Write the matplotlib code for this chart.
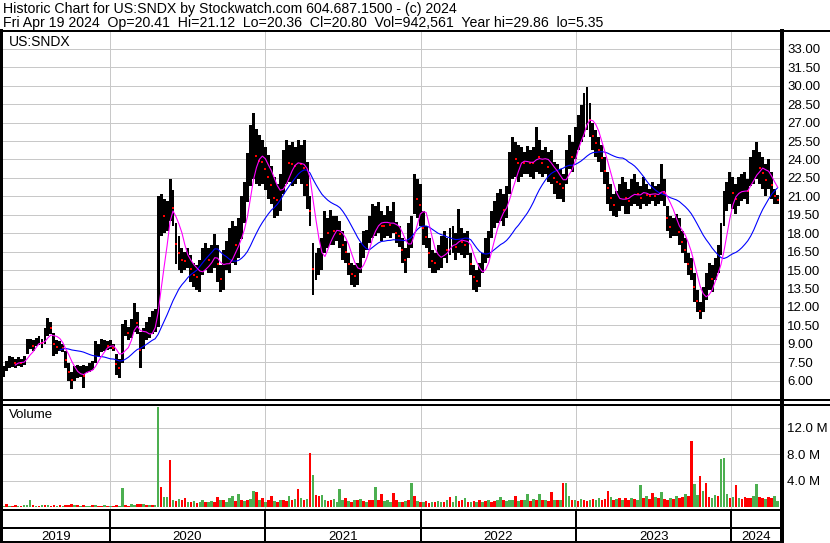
import numpy as np
import pandas as pd
import matplotlib
matplotlib.use('Agg')
import matplotlib.pyplot as plt
import matplotlib.dates as mdates
from matplotlib.lines import Line2D
from matplotlib.transforms import blended_transform_factory

plt.rcParams['font.family'] = ['Liberation Sans', 'DejaVu Sans']

W, H = 830, 543

# weekly bars (week ending friday)
weeks = pd.date_range('2019-04-26', periods=261, freq='W-FRI')

high = [7.2, 7.6, 8.0, 7.9, 7.8, 7.9, 7.8, 8.0, 9.4, 9.4,
        9.3, 9.5, 9.6, 9.4, 10.3, 11.1, 10.8, 9.9, 9.3, 9.2,
        9.0, 8.4, 7.4, 6.7, 7.2, 7.3, 7.2, 7.3, 7.2, 7.4,
        7.6, 9.2, 9.0, 9.4, 9.3, 9.2, 9.3, 9.0, 8.2, 7.8,
        10.6, 10.9, 10.4, 11.0, 12.3, 11.6, 10.0, 10.3, 10.8, 11.2,
        11.7, 11.8, 21.0, 21.2, 20.8, 20.6, 22.4, 21.5, 18.8, 17.8,
        16.8, 16.5, 16.8, 16.2, 15.6, 15.4, 15.8, 16.8, 17.2, 16.8,
        17.0, 17.9, 17.0, 15.4, 16.6, 17.4, 18.4, 19.0, 18.6, 19.2,
        21.0, 22.2, 24.5, 26.8, 27.8, 26.5, 26.0, 25.6, 25.0, 24.4,
        23.5, 22.6, 22.0, 22.8, 24.8, 25.6, 25.2, 25.4, 25.0, 25.6,
        25.2, 25.6, 23.8, 21.0, 17.2, 16.4, 16.8, 17.6, 19.8, 19.2,
        19.9, 19.4, 19.4, 19.0, 18.2, 17.4, 16.4, 15.6, 15.4, 15.6,
        17.2, 18.2, 18.3, 19.4, 20.4, 20.2, 20.5, 19.8, 19.5, 20.2,
        19.8, 20.5, 18.9, 18.6, 17.6, 16.8, 18.8, 19.4, 22.8, 22.4,
        22.0, 19.8, 18.6, 17.6, 16.6, 16.4, 17.0, 17.8, 18.2, 17.6,
        18.4, 18.6, 18.0, 20.0, 18.4, 18.0, 18.2, 16.4, 15.4, 15.0,
        15.6, 16.4, 17.6, 18.2, 19.8, 20.6, 21.3, 21.6, 21.2, 21.8,
        24.6, 25.8, 25.4, 25.2, 25.0, 24.6, 25.1, 24.8, 25.0, 26.6,
        25.6, 24.8, 25.0, 24.6, 24.8, 23.8, 23.6, 23.2, 22.8, 24.8,
        26.0, 25.4, 26.6, 27.6, 28.4, 29.4, 29.86, 28.6, 27.0, 26.4,
        25.8, 25.2, 24.2, 23.0, 22.0, 21.2, 21.4, 22.0, 22.6, 22.2,
        21.6, 22.4, 22.8, 22.2, 21.8, 22.6, 22.0, 21.6, 22.2, 21.8,
        22.0, 23.6, 22.4, 20.2, 19.4, 19.2, 19.6, 19.2, 18.2, 17.6,
        16.4, 16.0, 14.8, 13.4, 12.4, 13.6, 14.8, 15.6, 15.4, 16.0,
        17.0, 18.8, 21.4, 22.2, 23.0, 22.6, 22.0, 22.6, 22.8, 23.0,
        22.4, 24.2, 24.8, 25.4, 24.6, 24.2, 23.6, 24.0, 23.0, 21.6, 21.12]

low = [6.3, 6.8, 7.0, 7.1, 7.0, 7.2, 7.1, 7.3, 8.2, 8.6,
       8.4, 8.8, 8.9, 8.7, 9.0, 9.6, 9.8, 8.0, 8.2, 8.4,
       8.3, 7.0, 6.0, 5.35, 6.0, 6.2, 6.3, 5.4, 6.6, 6.7,
       6.9, 7.4, 8.0, 8.3, 8.4, 8.5, 8.6, 8.4, 6.5, 6.2,
       7.4, 9.6, 9.3, 9.5, 10.0, 9.8, 7.0, 8.6, 9.3, 9.5,
       9.8, 10.0, 10.4, 17.8, 18.0, 18.2, 19.0, 18.6, 15.5, 15.0,
       14.8, 15.0, 15.2, 14.0, 13.6, 13.4, 13.2, 14.6, 15.0, 14.8,
       14.8, 15.2, 14.0, 13.2, 13.4, 15.0, 14.8, 15.6, 15.4, 16.0,
       17.5, 18.8, 20.5, 21.8, 22.4, 22.0, 21.8, 22.0, 21.5, 20.8,
       20.4, 19.2, 19.4, 19.8, 21.2, 22.0, 22.2, 21.8, 22.0, 22.4,
       22.0, 21.0, 20.0, 18.6, 13.0, 14.2, 14.6, 15.0, 16.4, 16.8,
       17.0, 17.0, 17.4, 16.8, 15.8, 15.6, 14.6, 13.8, 13.6, 13.8,
       14.8, 16.0, 16.6, 17.2, 17.6, 17.8, 18.0, 17.4, 17.6, 17.8,
       17.6, 18.0, 17.2, 16.9, 15.6, 14.8, 16.0, 16.8, 19.6, 19.2,
       18.6, 17.0, 16.8, 15.2, 14.8, 14.8, 15.0, 15.2, 16.0, 15.6,
       16.2, 16.4, 15.8, 16.4, 16.2, 16.0, 16.2, 14.6, 13.4, 13.2,
       13.6, 14.8, 15.6, 16.0, 17.6, 18.4, 18.8, 19.0, 18.6, 19.2,
       21.2, 22.4, 22.6, 22.2, 22.6, 22.8, 22.8, 22.6, 22.4, 23.0,
       22.8, 22.6, 22.8, 22.2, 22.0, 21.2, 20.8, 20.8, 20.5, 22.0,
       23.2, 23.0, 24.0, 24.8, 25.4, 25.8, 26.4, 25.8, 24.8, 24.2,
       23.8, 23.0, 22.0, 20.4, 19.8, 19.4, 19.3, 19.8, 20.2, 19.6,
       19.6, 20.2, 20.4, 20.2, 20.0, 20.4, 20.2, 20.4, 20.6, 20.2,
       20.4, 20.6, 20.2, 18.2, 17.6, 17.8, 17.8, 17.0, 16.4, 15.6,
       14.6, 14.2, 12.4, 11.6, 11.0, 11.6, 12.6, 13.4, 13.2, 14.2,
       14.8, 16.2, 18.6, 19.8, 20.4, 20.0, 19.6, 20.2, 20.6, 20.8,
       20.4, 21.8, 22.0, 22.4, 22.0, 21.6, 21.0, 21.6, 20.8, 20.4, 20.36]

# volume in millions
volume = [0.2, 0.45, 0.2, 0.15, 0.25, 0.2, 0.15, 0.3, 0.35, 1.0,
          0.3, 0.2, 0.15, 0.25, 0.3, 0.35, 0.2, 0.25, 0.2, 0.3,
          0.2, 0.25, 0.3, 0.5, 0.3, 0.25, 0.2, 0.3, 0.15, 0.2,
          0.25, 0.3, 0.2, 0.15, 0.25, 0.2, 0.15, 0.2, 0.3, 0.2,
          2.9, 0.3, 0.2, 0.4, 0.3, 0.45, 0.45, 0.4, 0.3, 0.25,
          0.3, 0.35, 15.2, 3.0, 1.5, 1.5, 7.1, 1.0, 0.9, 1.2,
          1.0, 1.4, 0.8, 0.7, 0.9, 0.6, 0.7, 1.1, 0.8, 0.7,
          0.9, 0.8, 1.5, 1.0, 1.1, 0.8, 1.4, 1.6, 0.9, 2.0,
          1.1, 0.9, 1.0, 1.2, 2.5, 2.3, 1.1, 1.4, 0.8, 1.0,
          1.6, 0.9, 0.8, 1.1, 1.0, 0.9, 1.6, 1.1, 1.2, 2.7,
          1.4, 1.1, 1.2, 8.2, 4.8, 1.8, 1.6, 1.8, 1.1, 0.9,
          1.0, 1.2, 0.8, 2.7, 1.0, 1.3, 0.9, 0.8, 1.1, 1.0,
          1.2, 0.9, 0.8, 1.0, 1.1, 3.0, 1.0, 2.0, 0.9, 1.1,
          0.8, 2.1, 1.0, 0.7, 0.8, 0.9, 1.1, 3.6, 1.6, 0.9,
          0.8, 0.7, 0.9, 0.6, 0.8, 0.7, 0.9, 0.8, 0.7, 1.0,
          1.5, 0.8, 1.7, 0.9, 1.0, 1.3, 0.8, 0.7, 0.9, 0.8,
          1.1, 0.8, 0.9, 1.0, 0.8, 0.9, 1.1, 1.5, 1.0, 0.9,
          1.1, 1.0, 1.7, 0.9, 1.1, 1.0, 1.9, 0.9, 1.2, 1.0,
          1.9, 1.0, 1.1, 0.9, 2.3, 1.1, 1.0, 1.1, 3.6, 3.6,
          1.7, 1.0, 1.1, 0.9, 1.2, 1.0, 0.9, 1.1, 1.2, 1.0,
          1.3, 1.1, 1.2, 2.4, 1.5, 1.1, 1.2, 1.4, 1.0, 1.3,
          1.1, 1.4, 1.2, 1.0, 3.3, 1.4, 1.6, 1.2, 2.1, 1.5,
          1.3, 2.2, 1.2, 1.1, 1.4, 1.2, 1.6, 1.3, 1.5, 1.9,
          1.7, 10.0, 3.5, 1.8, 4.7, 2.5, 3.6, 1.5, 1.3, 1.8,
          1.6, 7.3, 7.4, 2.0, 1.3, 1.5, 3.4, 1.4, 1.2, 1.5,
          1.3, 1.4, 1.6, 3.5, 1.5, 1.4, 1.2, 1.5, 1.4, 1.6, 0.94]

# g = up, r = down
vol_dir = ("grgrrgrggg" "rgrgrgrrgr" "grrrgrgrgg" "rgrrgrgrrg" "grrggrrgrg"
           "rggrggrgrg" "rrgrgrggrg" "grrgrgggrg" "rgrggrgrgr" "rgrgrrgrgr"
           "grgrgrrggr" "rggggrgrgr" "grgrrgrrgg" "grrgrgrgrg" "rgrrgrggrg"
           "rggrrgrgrg" "rgrgrrggrg" "ggrgrggrgr" "grgrrgrgrg" "grgrgrrgrg"
           "grrrgrgrgr" "rgrggrgrrg" "rgrrgrgrrg" "rrggrgrrgg" "rgggrgrgrr"
           "rrggrrgrrgg")

title1 = 'Historic Chart for US:SNDX by Stockwatch.com 604.687.1500 - (c) 2024'
title2 = 'Fri Apr 19 2024  Op=20.41  Hi=21.12  Lo=20.36  Cl=20.80  Vol=942,561  Year hi=29.86  lo=5.35'
symbol = 'US:SNDX'
years = [2019, 2020, 2021, 2022, 2023, 2024]
price_ticks = np.arange(6, 33.01, 1.5)
vol_ticks = [4, 8, 12]

high = np.array(high)
low = np.array(low)
mid = (high + low) / 2
ma_fast = pd.Series(mid).rolling(5).mean()
ma_slow = pd.Series(mid).rolling(20).mean()
down = np.r_[False, mid[1:] < mid[:-1]]

GREY = '#c8c8c8'
PX = 0.72  # points per pixel at dpi 100

fig = plt.figure(figsize=(W / 100, H / 100), dpi=100)


def box(x0, y0, x1, y1):
    return [x0 / W, 1 - y1 / H, (x1 - x0) / W, (y1 - y0) / H]


def line(xs, ys, lw=2):
    fig.add_artist(Line2D([x / W for x in xs], [1 - y / H for y in ys],
                          color='black', lw=lw * PX, transform=fig.transFigure,
                          antialiased=False))


x_lo, x_hi = mdates.date2num(pd.Timestamp('2019-04-23')), mdates.date2num(pd.Timestamp('2024-04-27'))
year_starts = [mdates.date2num(pd.Timestamp(f'{y}-01-01')) for y in years[1:]]
wx = mdates.date2num(weeks)

# price panel
ax = fig.add_axes(box(2, 31, 781, 400))
ax.bar(wx, high - low, bottom=low, width=6.9, color='black', lw=0, antialiased=False)
ax.plot(wx[down], mid[down], 's', color='red', ms=1.6, mew=0)
ax.plot(wx, ma_slow, color='#0000ff', lw=1.1 * PX)
ax.plot(wx, ma_fast, color='#ff00ff', lw=1.1 * PX)
ax.set_xlim(x_lo, x_hi)
ax.set_ylim(4.43, 34.45)
ax.set_yticks(price_ticks)
ax.set_yticklabels([f'{v:.2f}' for v in price_ticks])
ax.set_xticks(year_starts)
ax.set_xticklabels([])
ax.yaxis.tick_right()
ax.tick_params(length=0, pad=4.3, labelsize=9.5)
ax.grid(True, color=GREY, lw=1 * PX)
ax.set_axisbelow(True)
for s in ax.spines.values():
    s.set_visible(False)

# volume panel
axv = fig.add_axes(box(2, 404, 781, 509))
axv.bar(wx, volume, width=6.2, color=['#4caf50' if c == 'g' else '#ff0000' for c in vol_dir],
        lw=0, antialiased=False)
axv.set_xlim(x_lo, x_hi)
axv.set_ylim(-0.3, 15.6)
axv.set_yticks(vol_ticks)
axv.set_yticklabels([f'{v:.1f} M' for v in vol_ticks])
axv.set_xticks(year_starts)
axv.set_xticklabels([])
axv.yaxis.tick_right()
axv.tick_params(length=0, pad=4.3, labelsize=9.5)
axv.grid(True, color=GREY, lw=1 * PX)
axv.set_axisbelow(True)
for s in axv.spines.values():
    s.set_visible(False)

# header and labels
fig.text(3 / W, 1 - 13.5 / H, title1, fontsize=10.2, va='baseline')
fig.text(3 / W, 1 - 27.5 / H, title2, fontsize=10.2, va='baseline')
fig.text(9 / W, 1 - 46 / H, symbol, fontsize=10, va='baseline')
fig.text(9 / W, 1 - 418 / H, 'Volume', fontsize=9.5, va='baseline')

# frame
line([0, W], [31, 31])
line([0, W], [400, 400])
line([0, W], [404.5, 404.5])
line([0, 782], [509.5, 509.5])
line([0, 782], [528, 528])
line([0, 782], [542, 542])
line([1, 1], [31, 543], lw=2.5)
line([782, 782], [31, 543], lw=2.5)

# year separators and labels under the volume panel
tr = blended_transform_factory(axv.transData, fig.transFigure)
for d in year_starts:
    fig.add_artist(Line2D([d, d], [1 - 509.5 / H, 1 - 542 / H], color='black',
                          lw=2 * PX, transform=tr, antialiased=False))
edges = [x_lo] + year_starts + [x_hi]
for y, a, b in zip(years, edges[:-1], edges[1:]):
    fig.text(a + (b - a) / 2, 1 - 540 / H, str(y), transform=tr, ha='center',
             va='baseline', fontsize=9.5)

fig.savefig('out.png', dpi=100)
